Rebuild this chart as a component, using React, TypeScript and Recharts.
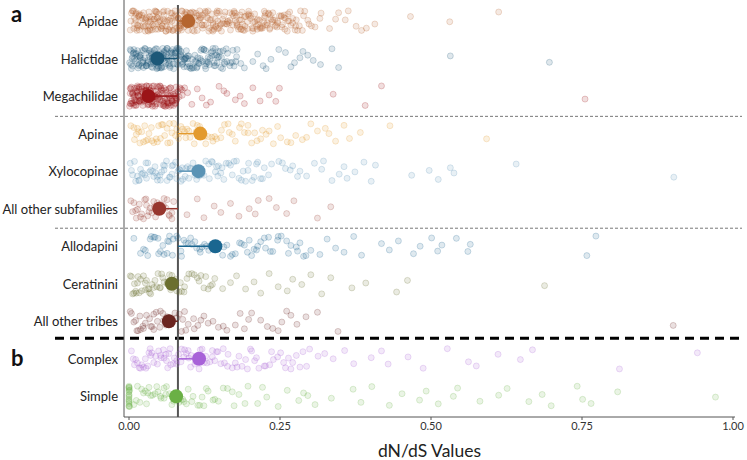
import React from 'react';
import { ScatterChart, Scatter, XAxis, YAxis, ReferenceLine } from 'recharts';

const FONT = 'Lato, "Open Sans", sans-serif';

// row labels, top to bottom
const ROWS = [
  'Apidae',
  'Halictidae',
  'Megachilidae',
  'Apinae',
  'Xylocopinae',
  'All other subfamilies',
  'Allodapini',
  'Ceratinini',
  'All other tribes',
  'Complex',
  'Simple',
];

// mean dN/dS per row
const MEANS = [0.098, 0.047, 0.032, 0.118, 0.115, 0.05, 0.143, 0.071, 0.066, 0.116, 0.078];

const REF_VALUE = 0.081;
const X_TICKS = [0, 0.25, 0.5, 0.75, 1];

// individual gene values per row
const APIDAE = [0.004,0.062,0.118,0.031,0.087,0.152,0.013,0.074,0.196,0.045,0.108,0.021,0.139,0.067,0.233,0.009,0.093,0.171,0.052,0.126,0.038,0.081,0.214,0.016,0.147,0.059,0.101,0.027,0.183,0.071,0.242,0.042,0.113,0.006,0.162,0.085,0.034,0.205,0.056,0.132,0.018,0.097,0.176,0.048,0.224,0.076,0.011,0.143,0.064,0.189,0.029,0.121,0.252,0.053,0.089,0.167,0.023,0.136,0.069,0.211,0.041,0.105,0.008,0.158,0.079,0.193,0.035,0.128,0.262,0.058,0.014,0.115,0.181,0.047,0.229,0.092,0.025,0.149,0.066,0.271,0.039,0.202,0.083,0.003,0.174,0.055,0.238,0.111,0.019,0.155,0.073,0.284,0.044,0.219,0.098,0.032,0.187,0.061,0.257,0.124,0.296,0.141,0.082,0.246,0.017,0.308,0.198,0.275,0.316,0.226,0.289,0.332,0.265,0.347,0.302,0.358,0.318,0.376,0.342,0.385,0.363,0.407,0.393,0.466,0.531,0.612,
  0.027,0.094,0.151,0.212,0.044,0.119,0.178,0.263,0.068,0.006,0.137,0.201,0.083,0.249,0.035,0.164,0.107,0.282,0.052,0.226,0.015,0.143,0.191,0.076,0.298,0.122,0.039,0.208,0.159,0.061,0.234,0.096,0.011,0.185,0.129,0.271,0.049,0.217,0.088,0.168,0.022,0.254,0.113,0.196,0.071,0.145,0.033,0.241,0.102,0.179,0.057,0.287,0.131,0.009,0.221,0.079,0.163,0.046,0.205,0.116,0.268,0.064,0.186,0.028,0.139,0.231,0.091,0.174,0.017,0.259,0.109,0.199,0.054,0.147,0.238,0.084,0.277,0.126,0.041,0.213,
  0.013,0.058,0.104,0.149,0.191,0.237,0.033,0.081,0.122,0.172,0.216,0.258,0.047,0.089,0.137,0.183,0.224,0.002,0.069,0.111,0.157,0.206,0.246,0.024,0.086,0.134,0.176,0.221,0.037,0.098,0.146,0.188,0.233,0.016,0.062,0.105,0.153,0.197,0.243,0.028,0.075,0.118,0.166,0.208,0.253,0.044,0.087,0.131,0.179,0.225,0.008,0.051,0.096,0.144,0.186,0.231,0.276,0.027,0.072,0.117,0.162,0.204,0.252,0.049,0.094,0.139,0.184,0.229,0.018,0.065,0.108,0.155,0.198,0.245,0.291,0.035,0.082,0.127,0.173,0.217,0.263,0.012,0.055,0.102,0.147,0.192,0.235,0.279,0.043,0.088,0.133,0.178,0.223,0.266,0.032,0.077,0.121,0.167,0.212,0.257];
const HALICTIDAE = [0.003,0.041,0.087,0.015,0.063,0.122,0.029,0.052,0.105,0.008,0.074,0.036,0.141,0.019,0.091,0.057,0.011,0.069,0.133,0.046,0.024,0.082,0.158,0.033,0.006,0.097,0.061,0.115,0.039,0.078,0.013,0.149,0.054,0.026,0.088,0.167,0.044,0.071,0.002,0.127,0.058,0.021,0.094,0.037,0.109,0.066,0.148,0.017,0.083,0.049,0.137,0.031,0.076,0.174,0.009,0.119,0.185,0.062,0.156,0.098,0.178,0.191,0.143,0.205,0.222,0.213,0.235,0.248,0.227,0.259,0.274,0.283,0.268,0.296,0.305,0.288,0.317,0.336,0.347,0.532,0.696,
  0.007,0.048,0.093,0.022,0.067,0.131,0.035,0.079,0.014,0.112,0.056,0.162,0.028,0.085,0.043,0.124,0.004,0.071,0.146,0.038,0.096,0.019,0.059,0.138,0.081,0.027,0.105,0.051,0.171,0.012,0.068,0.118,0.042,0.089,0.153,0.024,0.074,0.034,0.101,0.063,0.129,0.016,0.053,0.092,0.179,0.046,0.077,0.001,0.114,0.058,0.142,0.031,0.086,0.065,0.161,0.039,0.099,0.023,0.072,0.126,
  0.005,0.033,0.061,0.094,0.127,0.158,0.018,0.047,0.079,0.111,0.143,0.011,0.039,0.072,0.103,0.136,0.168,0.026,0.054,0.086,0.119,0.151,0.003,0.044,0.068,0.097,0.131,0.163,0.021,0.057,0.083,0.116,0.147,0.014,0.036,0.075,0.107,0.139,0.177,0.029,0.062,0.091,0.124,0.155,0.008,0.049,0.078,0.113,0.145,0.023,0.058,0.088,0.121,0.152,0.017,0.041,0.069,0.101,0.134,0.172,0.031,0.064,0.095,0.128,0.006,0.052,0.081,0.109,0.141,0.037];
const MEGACHILIDAE = [0.002,0.018,0.035,0.008,0.051,0.024,0.067,0.012,0.043,0.004,0.059,0.029,0.074,0.015,0.038,0.006,0.048,0.021,0.063,0.033,0.011,0.055,0.079,0.026,0.003,0.041,0.069,0.017,0.046,0.009,0.072,0.031,0.057,0.014,0.037,0.065,0.022,0.049,0.078,0.001,0.028,0.053,0.088,0.104,0.097,0.121,0.113,0.135,0.149,0.128,0.162,0.176,0.157,0.191,0.184,0.205,0.217,0.232,0.249,0.243,0.338,0.391,0.418,0.755,
  0.005,0.027,0.044,0.016,0.061,0.034,0.071,0.009,0.052,0.023,0.039,0.066,0.013,0.047,0.031,0.077,0.019,0.056,0.002,0.042,0.068,0.025,0.036,0.058,0.011,0.049,0.074,0.029,0.063,0.007,0.045,0.083,0.018,0.039,0.054,0.024,0.069,0.032,0.013,0.059,0.086,0.041,0.021,0.064,0.006,0.051,0.035,0.076,0.015,0.092,
  0.004,0.019,0.037,0.056,0.073,0.012,0.029,0.047,0.064,0.081,0.008,0.025,0.043,0.061,0.078,0.015,0.033,0.051,0.069,0.003,0.021,0.039,0.057,0.075,0.011,0.028,0.046,0.066,0.084,0.017,0.035,0.053,0.071,0.006,0.023,0.041,0.059,0.077,0.014,0.031,0.049,0.067,0.088,0.009,0.027,0.044,0.062,0.079,0.016,0.034,0.052,0.07,0.002,0.022,0.04,0.058,0.076,0.013,0.038,0.065];
const APINAE = [0.003,0.045,0.092,0.018,0.067,0.131,0.028,0.079,0.012,0.054,0.108,0.037,0.152,0.071,0.024,0.119,0.059,0.086,0.009,0.164,0.041,0.099,0.137,0.063,0.176,0.033,0.113,0.082,0.191,0.049,0.145,0.016,0.203,0.074,0.125,0.212,0.096,0.227,0.158,0.239,0.183,0.251,0.197,0.262,0.221,0.276,0.246,0.287,0.301,0.268,0.312,0.294,0.325,0.342,0.331,0.356,0.365,0.383,0.432,0.592,
  0.021,0.064,0.106,0.142,0.038,0.089,0.171,0.056,0.127,0.008,0.094,0.208,0.047,0.153,0.077,0.117,0.031,0.186,0.068,0.232,0.101,0.014,0.139,0.083,0.197,0.052,0.166,0.026,0.218,0.111];
const XYLOCOPINAE = [0.002,0.041,0.083,0.016,0.062,0.121,0.029,0.097,0.054,0.138,0.011,0.073,0.109,0.036,0.157,0.088,0.023,0.132,0.067,0.174,0.047,0.101,0.006,0.148,0.079,0.189,0.031,0.116,0.058,0.165,0.093,0.019,0.204,0.127,0.071,0.182,0.043,0.143,0.213,0.086,0.168,0.051,0.197,0.112,0.224,0.152,0.236,0.207,0.248,0.186,0.259,0.231,0.271,0.218,0.283,0.254,0.294,0.267,0.307,0.279,0.319,0.336,0.322,0.348,0.361,0.356,0.374,0.389,0.401,0.408,0.468,0.497,0.512,0.532,0.538,0.641,0.902,
  0.009,0.052,0.094,0.026,0.071,0.133,0.039,0.106,0.014,0.084,0.161,0.047,0.119,0.063,0.178,0.021,0.099,0.145,0.034,0.077,0.193,0.057,0.124,0.004,0.089,0.154,0.044,0.211,0.068,0.137,0.017,0.102,0.171,0.059,0.221,0.081,0.028,0.147,0.113,0.198];
const OTHER_SUBFAMILIES = [0.003,0.021,0.042,0.012,0.058,0.033,0.067,0.017,0.049,0.026,0.071,0.008,0.038,0.061,0.044,0.029,0.054,0.074,0.096,0.113,0.124,0.141,0.152,0.168,0.182,0.199,0.214,0.261,0.244,0.273,0.209,0.334,0.312,0.232,
  0.006,0.031,0.052,0.014,0.063,0.024,0.047,0.071,0.035,0.019,0.057,0.011,0.041,0.066,0.028];
const ALLODAPINI = [0.008,0.052,0.104,0.031,0.079,0.147,0.019,0.066,0.121,0.043,0.168,0.091,0.027,0.135,0.058,0.183,0.112,0.073,0.196,0.037,0.155,0.098,0.211,0.064,0.176,0.128,0.224,0.086,0.191,0.048,0.238,0.143,0.203,0.252,0.117,0.264,0.218,0.277,0.231,0.289,0.246,0.301,0.268,0.316,0.283,0.342,0.328,0.356,0.372,0.385,0.418,0.431,0.446,0.471,0.482,0.501,0.511,0.518,0.542,0.561,0.565,0.758,0.773,
  0.024,0.063,0.109,0.157,0.041,0.087,0.199,0.132,0.056,0.171,0.094,0.226,0.035,0.118,0.247,0.072,0.186,0.141,0.261,0.049,0.213,0.102,0.279,0.162,0.081,0.234,0.125,0.293,0.067,0.207];
const CERATININI = [0.002,0.031,0.064,0.012,0.048,0.092,0.021,0.077,0.038,0.108,0.006,0.056,0.124,0.027,0.083,0.043,0.135,0.015,0.069,0.099,0.034,0.116,0.052,0.142,0.087,0.009,0.071,0.155,0.168,0.178,0.193,0.207,0.218,0.232,0.247,0.262,0.271,0.286,0.301,0.319,0.334,0.369,0.392,0.443,0.461,0.688,
  0.004,0.027,0.054,0.017,0.072,0.041,0.096,0.011,0.063,0.119,0.033,0.085,0.024,0.131,0.058,0.008,0.104,0.046,0.079,0.019,0.138,0.067,0.036,0.113,0.051,0.014,0.091,0.029,0.074,0.127];
const OTHER_TRIBES = [0.004,0.036,0.071,0.015,0.052,0.098,0.024,0.063,0.008,0.045,0.087,0.029,0.114,0.057,0.019,0.079,0.131,0.041,0.148,0.092,0.162,0.107,0.176,0.124,0.191,0.139,0.203,0.156,0.218,0.184,0.229,0.198,0.247,0.261,0.278,0.238,0.293,0.253,0.312,0.346,0.268,0.901,
  0.011,0.041,0.067,0.027,0.083,0.051,0.002,0.094,0.034,0.061,0.018,0.108,0.047,0.076,0.023,0.119,0.056,0.038,0.089,0.013];
const COMPLEX = [0.004,0.047,0.091,0.019,0.068,0.134,0.031,0.082,0.011,0.057,0.116,0.038,0.158,0.075,0.024,0.103,0.062,0.145,0.009,0.087,0.171,0.044,0.124,0.066,0.187,0.027,0.098,0.152,0.053,0.203,0.079,0.138,0.215,0.035,0.111,0.226,0.164,0.239,0.092,0.196,0.251,0.129,0.264,0.179,0.277,0.208,0.288,0.233,0.299,0.259,0.313,0.271,0.324,0.294,0.338,0.357,0.372,0.401,0.418,0.429,0.462,0.487,0.527,0.562,0.575,0.611,0.648,0.668,0.812,0.941,
  0.014,0.058,0.102,0.036,0.079,0.147,0.021,0.121,0.064,0.182,0.041,0.095,0.163,0.007,0.138,0.073,0.211,0.049,0.109,0.246,0.028,0.156,0.086,0.224,0.061,0.193,0.118,0.268,0.033,0.176,0.099,0.283,0.052,0.142,0.236,0.069,0.201,0.017,0.127,0.256];
const SIMPLE = [0,0,0,0,0,0,0,0,0,0,0.001,0.001,0.012,0.036,0.071,0.024,0.053,0.098,0.018,0.062,0.117,0.043,0.086,0.131,0.029,0.106,0.058,0.148,0.077,0.163,0.091,0.182,0.124,0.197,0.142,0.213,0.171,0.228,0.221,0.247,0.262,0.281,0.296,0.308,0.289,0.335,0.371,0.384,0.402,0.431,0.452,0.481,0.492,0.512,0.537,0.544,0.581,0.612,0.626,0.662,0.684,0.699,0.742,0.751,0.765,0.809,0.971,
  0,0,0,0,0,0.008,0.031,0.058,0.021,0.083,0.046,0.114,0.067,0.139,0.027,0.095,0.052,0.156,0.074,0.039,0.128,0.104,0.061,0.174,0.014,0.089,0.192,0.048,0.121,0.033];

const VALUES = [APIDAE, HALICTIDAE, MEGACHILIDAE, APINAE, XYLOCOPINAE, OTHER_SUBFAMILIES, ALLODAPINI, CERATININI, OTHER_TRIBES, COMPLEX, SIMPLE];

const COLORS = ['#b5652f', '#1c5878', '#9b1418', '#e39a2d', '#5a93b5', '#97362e', '#1a6690', '#6b6f2f', '#6b2520', '#a862d8', '#6ab045'];

// vertical jitter offsets (row units), cycled through the points
const JITTER = [-0.21, 0.14, -0.05, 0.25, -0.27, 0.08, 0.19, -0.12, 0.02, -0.24, 0.27, -0.16, 0.11, -0.02, 0.22, -0.09, 0.05, -0.19, 0.16, -0.26, 0.24, -0.07, 0.1, -0.14, 0.2, 0.0, -0.22, 0.13, -0.03];

const dot = (color: string) => (p: any) => (
  <circle cx={p.cx} cy={p.cy} r={3} fill={color} fillOpacity={0.14} stroke={color} strokeOpacity={0.28} strokeWidth={0.8} />
);

const sepLine = (width: number, color: string, dash: string) => (p: any) => (
  <line x1={55} x2={742} y1={p.y1} y2={p.y1} stroke={color} strokeWidth={width} strokeDasharray={dash} />
);

const RowTick = (p: any) => (
  <text x={p.x} y={p.y} textAnchor="end" dominantBaseline="central" fontSize={13} fill="#222" fontFamily={FONT}>
    {ROWS[p.payload.value]}
  </text>
);

export default function App() {
  return (
    <div style={{ position: 'absolute', left: 0, top: 0, width: 747, height: 460, background: '#fff' }}>
      <ScatterChart width={747} height={460} margin={{ top: 0, right: 12, bottom: 0, left: 0 }}>
        <XAxis
          type="number"
          dataKey="x"
          domain={[-0.0083, 1.0033]}
          ticks={X_TICKS}
          tickFormatter={(v: number) => v.toFixed(2)}
          allowDataOverflow
          height={43}
          stroke="#555"
          tickSize={3}
          tick={{ fontSize: 11, fill: '#333', fontFamily: FONT }}
          label={{ value: 'dN/dS Values', position: 'insideBottom', offset: 3, style: { fontSize: 17.5, fill: '#222', fontFamily: FONT } }}
        />
        <YAxis
          type="number"
          dataKey="y"
          domain={[-0.56, 10.55]}
          reversed
          ticks={ROWS.map((_, i) => i)}
          interval={0}
          width={124}
          tickLine={false}
          tickSize={4}
          tickMargin={2}
          stroke="#555"
          tick={RowTick}
        />
        <ReferenceLine y={2.54} shape={sepLine(1, '#777', '3 2')} />
        <ReferenceLine y={5.52} shape={sepLine(1, '#777', '3 2')} />
        <ReferenceLine y={8.45} shape={sepLine(3, '#000', '9 6')} />
        <ReferenceLine segment={[{ x: REF_VALUE, y: -0.43 }, { x: REF_VALUE, y: 10.55 }]} stroke="#555" strokeWidth={2} />
        {VALUES.map((vals, row) => (
          <Scatter
            key={'pts' + row}
            data={vals.map((v, i) => ({ x: v, y: row + JITTER[i % JITTER.length] }))}
            shape={dot(COLORS[row])}
            isAnimationActive={false}
          />
        ))}
        {MEANS.map((m, row) => (
          <Scatter
            key={'seg' + row}
            data={[{ x: REF_VALUE, y: row }, { x: m, y: row }]}
            line={{ stroke: COLORS[row], strokeWidth: 1.5 }}
            shape={() => <g />}
            isAnimationActive={false}
          />
        ))}
        <Scatter
          data={MEANS.map((m, row) => ({ x: m, y: row, row }))}
          shape={(p: any) => <circle cx={p.cx} cy={p.cy} r={7} fill={COLORS[p.payload.row]} />}
          isAnimationActive={false}
        />
      </ScatterChart>
      <svg width={747} height={460} style={{ position: 'absolute', left: 0, top: 0, pointerEvents: 'none' }}>
        <text x={11} y={22} fontSize={22} fontWeight="bold" fontFamily={FONT} fill="#111">a</text>
        <text x={11} y={366} fontSize={22} fontWeight="bold" fontFamily={FONT} fill="#111">b</text>
      </svg>
    </div>
  );
}
